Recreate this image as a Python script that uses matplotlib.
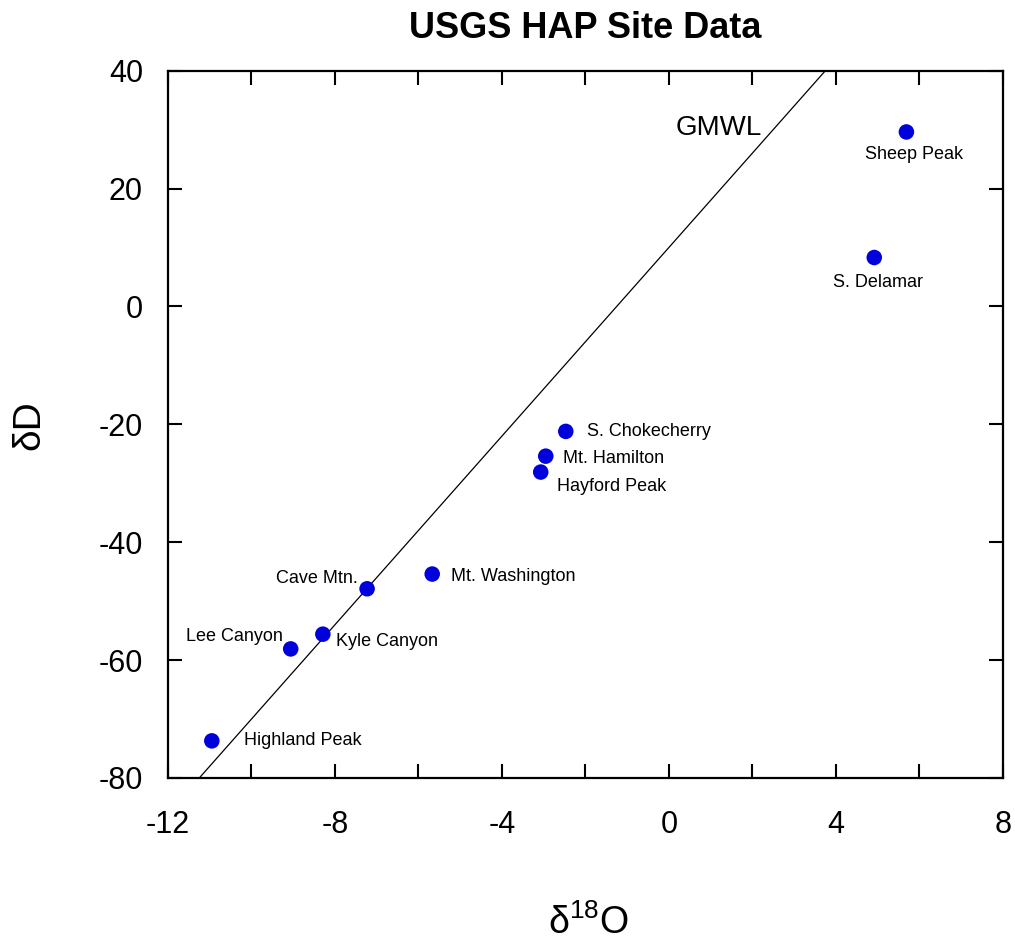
import matplotlib.pyplot as plt
from matplotlib.ticker import MultipleLocator

plt.rcParams['font.family'] = ['Liberation Sans', 'DejaVu Sans']
plt.rcParams['mathtext.fontset'] = 'custom'
plt.rcParams['mathtext.rm'] = 'Liberation Sans'
plt.rcParams['mathtext.it'] = 'Liberation Sans'
plt.rcParams['axes.unicode_minus'] = False

# HAP sites: delta 18O vs delta D (per mil)
sites = ['Sheep Peak', 'S. Delamar', 'S. Chokecherry', 'Mt. Hamilton', 'Hayford Peak',
         'Mt. Washington', 'Cave Mtn.', 'Kyle Canyon', 'Lee Canyon', 'Highland Peak']
d18o = [5.69, 4.92, -2.47, -2.95, -3.07, -5.67, -7.23, -8.29, -9.06, -10.95]
dD = [29.6, 8.3, -21.2, -25.4, -28.1, -45.4, -47.9, -55.6, -58.1, -73.7]

# global meteoric water line: dD = 8 * d18O + 10
gmwl_slope = 8
gmwl_intercept = 10

# label placement (pixel offsets from the point, alignment)
label_pos = {
    'Sheep Peak': ((8, -23), 'center'),
    'S. Delamar': ((4, -25), 'center'),
    'S. Chokecherry': ((21, 0), 'left'),
    'Mt. Hamilton': ((17, -2), 'left'),
    'Hayford Peak': ((16, -14), 'left'),
    'Mt. Washington': ((19, -2), 'left'),
    'Cave Mtn.': ((-9, 10), 'right'),
    'Kyle Canyon': ((13, -7), 'left'),
    'Lee Canyon': ((-8, 12), 'right'),
    'Highland Peak': ((32, 0), 'left'),
}

fig = plt.figure(figsize=(10.15, 9.42), dpi=100)
ax = fig.add_axes([0.1655, 0.1741, 0.8225, 0.7509])

ax.axline((0, gmwl_intercept), slope=gmwl_slope, color='black', lw=0.9)
ax.text(0.15, 30.3, 'GMWL', fontsize=20, ha='left', va='center')

ax.scatter(d18o, dD, s=125, color='#0000dd', zorder=3, edgecolors='none')
for name, x, y in zip(sites, d18o, dD):
    (dx, dy), ha = label_pos[name]
    ax.annotate(name, (x, y), xytext=(dx, dy), textcoords='offset pixels',
                fontsize=13, ha=ha, va='center')

ax.set_xlim(-12, 8)
ax.set_ylim(-80, 40)
ax.xaxis.set_major_locator(MultipleLocator(4))
ax.xaxis.set_minor_locator(MultipleLocator(2))
ax.yaxis.set_major_locator(MultipleLocator(20))
ax.tick_params(which='both', direction='in', top=True, right=True,
               length=10, width=1.5, labelsize=22)
ax.tick_params(axis='x', pad=23)
ax.tick_params(axis='y', pad=18)
for s in ax.spines.values():
    s.set_linewidth(1.6)

fig.text(0.5765, 0.9597, 'USGS HAP Site Data', fontsize=26, fontweight='bold',
         ha='center', va='baseline')
fig.text(0.580, 0.008, 'δ$^{18}$O', fontsize=27, ha='center', va='baseline')
fig.text(0.029, 0.549, 'δD', fontsize=28, ha='center', va='center', rotation=90)

fig.savefig('out.png', dpi=100)
